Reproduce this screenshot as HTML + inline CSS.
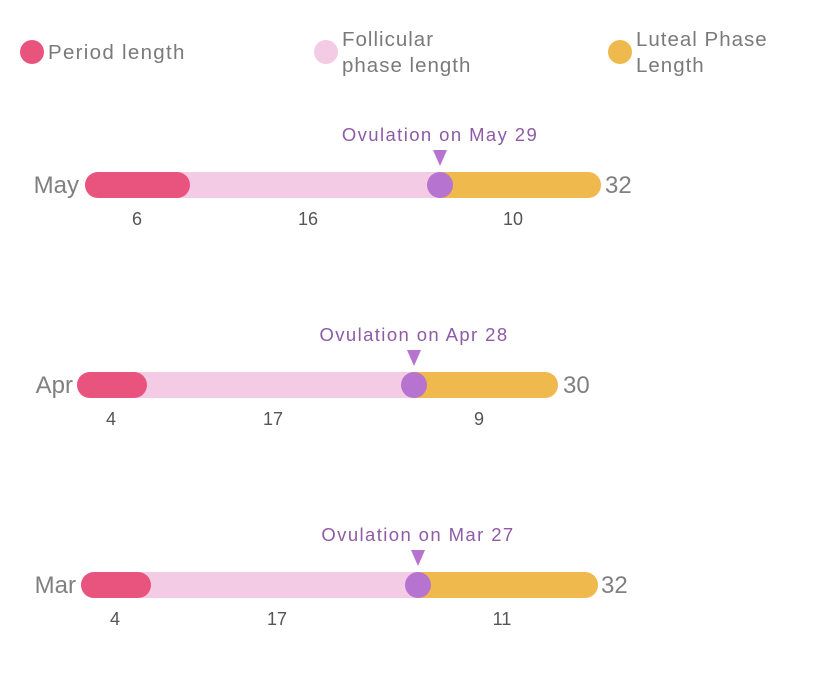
<!DOCTYPE html>
<html><head><meta charset="utf-8"><style>
html,body{margin:0;padding:0;background:#fff;}
svg{display:block;font-family:"Liberation Sans",sans-serif;}
</style></head><body>
<svg width="828" height="681" viewBox="0 0 828 681">
<!-- legend -->
<circle cx="32" cy="52" r="12" fill="#e9547e"/>
<text x="48" y="59" font-size="20.5" letter-spacing="1.3" fill="#7a7a7a">Period length</text>
<circle cx="326" cy="52" r="12" fill="#f3cbe4"/>
<text x="342" y="46" font-size="20.5" letter-spacing="1.0" fill="#7a7a7a">Follicular</text>
<text x="342" y="72" font-size="20.5" letter-spacing="1.0" fill="#7a7a7a">phase length</text>
<circle cx="620" cy="52" r="12" fill="#f0b94d"/>
<text x="636" y="46" font-size="20.5" letter-spacing="1.0" fill="#7a7a7a">Luteal Phase</text>
<text x="636" y="72" font-size="20.5" letter-spacing="1.0" fill="#7a7a7a">Length</text>

<!-- May -->
<g>
<rect x="85" y="172" width="516" height="26" rx="13" fill="#f3cbe4"/>
<path d="M440 172 H588 A13 13 0 0 1 588 198 H440 Z" fill="#f0b94d"/>
<rect x="85" y="172" width="105" height="26" rx="13" fill="#e9547e"/>
<circle cx="440" cy="185" r="13" fill="#b673d0"/>
<polygon points="433,150 447,150 440,166" fill="#b673d0"/>
<text x="440" y="141" font-size="18.5" letter-spacing="1.4" fill="#8e5ba6" text-anchor="middle">Ovulation on May 29</text>
<text x="79" y="193" font-size="24" fill="#808080" text-anchor="end">May</text>
<text x="605" y="193" font-size="24" fill="#808080">32</text>
<text x="137" y="225" font-size="18" fill="#555" text-anchor="middle">6</text>
<text x="308" y="225" font-size="18" fill="#555" text-anchor="middle">16</text>
<text x="513" y="225" font-size="18" fill="#555" text-anchor="middle">10</text>
</g>

<!-- Apr -->
<g>
<rect x="77" y="372" width="481" height="26" rx="13" fill="#f3cbe4"/>
<path d="M414 372 H545 A13 13 0 0 1 545 398 H414 Z" fill="#f0b94d"/>
<rect x="77" y="372" width="70" height="26" rx="13" fill="#e9547e"/>
<circle cx="414" cy="385" r="13" fill="#b673d0"/>
<polygon points="407,350 421,350 414,366" fill="#b673d0"/>
<text x="414" y="341" font-size="18.5" letter-spacing="1.4" fill="#8e5ba6" text-anchor="middle">Ovulation on Apr 28</text>
<text x="73" y="393" font-size="24" fill="#808080" text-anchor="end">Apr</text>
<text x="563" y="393" font-size="24" fill="#808080">30</text>
<text x="111" y="425" font-size="18" fill="#555" text-anchor="middle">4</text>
<text x="273" y="425" font-size="18" fill="#555" text-anchor="middle">17</text>
<text x="479" y="425" font-size="18" fill="#555" text-anchor="middle">9</text>
</g>

<!-- Mar -->
<g>
<rect x="81" y="572" width="517" height="26" rx="13" fill="#f3cbe4"/>
<path d="M418 572 H585 A13 13 0 0 1 585 598 H418 Z" fill="#f0b94d"/>
<rect x="81" y="572" width="70" height="26" rx="13" fill="#e9547e"/>
<circle cx="418" cy="585" r="13" fill="#b673d0"/>
<polygon points="411,550 425,550 418,566" fill="#b673d0"/>
<text x="418" y="541" font-size="18.5" letter-spacing="1.4" fill="#8e5ba6" text-anchor="middle">Ovulation on Mar 27</text>
<text x="76" y="593" font-size="24" fill="#808080" text-anchor="end">Mar</text>
<text x="601" y="593" font-size="24" fill="#808080">32</text>
<text x="115" y="625" font-size="18" fill="#555" text-anchor="middle">4</text>
<text x="277" y="625" font-size="18" fill="#555" text-anchor="middle">17</text>
<text x="502" y="625" font-size="18" fill="#555" text-anchor="middle">11</text>
</g>
</svg>
</body></html>
